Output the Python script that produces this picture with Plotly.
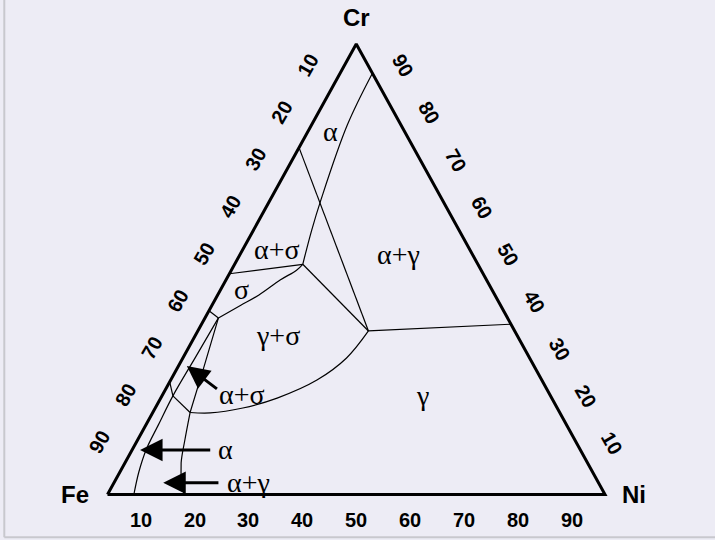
"""Fe-Cr-Ni isothermal section: phase fields drawn on a ternary grid."""

import plotly.graph_objects as go

# Phase boundaries, as Ni wt% and Cr wt% (Fe = balance)
edge_ni = [0, 100, 0, 0]
edge_cr = [0, 0, 100, 0]

alpha_top_ni = [6.5, 7.2, 10.2, 11.7, 13.7]
alpha_top_cr = [93.5, 82.0, 65.4, 58.7, 51.1]

tie_left_ni = [0, 34.3]
tie_left_cr = [77.0, 36.3]

tie_right_ni = [34.3, 62.2]
tie_right_cr = [36.3, 37.8]

j1_j2_ni = [13.7, 34.3]
j1_j2_cr = [51.1, 36.3]

sigma_top_ni = [0, 13.7]
sigma_top_cr = [49.0, 51.1]

sigma_low_ni = [13.7, 13.1, 10.9, 8.3, 5.8, 2.7]
sigma_low_cr = [51.1, 49.8, 47.6, 44.3, 42.0, 39.2]

sigma_left_ni = [0, 2.7]
sigma_left_cr = [40.8, 39.2]

alpha_low_ni = [2.7, 2.45, 2.2, 2.5, 2.8, 3.8, 5.3]
alpha_low_cr = [39.2, 30.5, 21.9, 15.4, 9.9, 5.0, 0]

alpha_edge_ni = [0, 2.2]
alpha_edge_cr = [25.0, 21.9]

as_bottom_ni = [2.2, 7.5]
as_bottom_cr = [21.9, 18.2]

as_right_ni = [2.7, 5.3, 7.5]
as_right_cr = [39.2, 28.0, 18.2]

ag_gamma_ni = [7.5, 9.5, 11.3, 13.7, 15.4]
ag_gamma_cr = [18.2, 12.1, 7.0, 2.5, 0]

arc_ni = [7.5, 11.6, 17.6, 23.4, 29.4, 32.9, 34.3]
arc_cr = [18.2, 18.1, 19.2, 21.4, 25.4, 30.3, 36.3]

# phase field labels
phase_text = ["α", "α+σ", "σ", "γ+σ", "α+γ", "γ"]
phase_ni = [4.5, 6.9, 4.2, 16.6, 31.9, 52.3]
phase_cr = [80.5, 54.3, 45.6, 35.4, 53.2, 21.9]

# arrow callouts (tip, tail, label)
callout_text = ["α+σ", "α", "α+γ"]
callout_tip_ni = [1.7, 1.6, 9.9]
callout_tip_cr = [28.5, 9.9, 2.6]
callout_tail_ni = [10.7, 16.0, 21.3]
callout_tail_cr = [23.2, 9.9, 2.6]
callout_label_ni = [16.0, 18.8, 27.0]
callout_label_cr = [22.1, 9.9, 2.6]

tick_values = [10, 20, 30, 40, 50, 60, 70, 80, 90]

BG = "#EDECF5"
TICK_FONT = dict(family="Liberation Sans Narrow, Liberation Sans, Arial, sans-serif",
                 size=20, color="black", weight="bold")
PHASE_FONT = dict(family="Liberation Serif, Times New Roman, serif", size=28, color="black")
CORNER_FONT = dict(family="Liberation Sans, Arial, sans-serif", size=24, color="black", weight="bold")


def to_xy(ni, cr):
    # ternary composition -> plane: Fe at origin, Ni at x=100, Cr at apex
    return [n + c / 2 for n, c in zip(ni, cr)], list(cr)


fig = go.Figure()


def add_line(ni, cr, width=1.2, shape="linear"):
    x, y = to_xy(ni, cr)
    fig.add_trace(go.Scatter(x=x, y=y, mode="lines",
                             line=dict(color="black", width=width, shape=shape),
                             hoverinfo="skip", showlegend=False))


add_line(edge_ni, edge_cr, width=3)
add_line(alpha_top_ni, alpha_top_cr, shape="spline")
add_line(tie_left_ni, tie_left_cr)
add_line(tie_right_ni, tie_right_cr)
add_line(j1_j2_ni, j1_j2_cr)
add_line(sigma_top_ni, sigma_top_cr)
add_line(sigma_low_ni, sigma_low_cr, shape="spline")
add_line(sigma_left_ni, sigma_left_cr)
add_line(alpha_low_ni, alpha_low_cr, shape="spline")
add_line(alpha_edge_ni, alpha_edge_cr)
add_line(as_bottom_ni, as_bottom_cr)
add_line(as_right_ni, as_right_cr, shape="spline")
add_line(ag_gamma_ni, ag_gamma_cr, shape="spline")
add_line(arc_ni, arc_cr, shape="spline")

annotations = []

# phase field names
px, py = to_xy(phase_ni, phase_cr)
for t, x, y in zip(phase_text, px, py):
    annotations.append(dict(x=x, y=y, text=t, showarrow=False, font=PHASE_FONT))

# arrows with labels
tx, ty = to_xy(callout_tip_ni, callout_tip_cr)
ax_, ay_ = to_xy(callout_tail_ni, callout_tail_cr)
lx, ly = to_xy(callout_label_ni, callout_label_cr)
for i, t in enumerate(callout_text):
    annotations.append(dict(x=tx[i], y=ty[i], ax=ax_[i], ay=ay_[i], axref="x", ayref="y",
                            text="", showarrow=True, arrowhead=2, arrowsize=1.5,
                            arrowwidth=3, arrowcolor="black", standoff=0, startstandoff=0))
    annotations.append(dict(x=lx[i], y=ly[i], text=t, showarrow=False, font=PHASE_FONT))

# corner labels
annotations += [
    dict(x=50, y=100, text="Cr", showarrow=False, yshift=27, font=CORNER_FONT),
    dict(x=0, y=0, text="Fe", showarrow=False, xshift=-33, font=CORNER_FONT),
    dict(x=100, y=0, text="Ni", showarrow=False, xshift=29, font=CORNER_FONT),
]

# tick labels: bottom = Ni, left = Fe, right = Cr
BOTTOM_SPREAD = 1.083
SIDE_SPREAD = 1.047
for v in tick_values:
    annotations.append(dict(x=50 + (v - 50) * BOTTOM_SPREAD, y=0, text=str(v),
                            showarrow=False, yshift=-25, font=TICK_FONT))
    fe = 50 + (v - 50) * SIDE_SPREAD
    cr = 100 - fe
    annotations.append(dict(x=cr / 2, y=cr, text=str(v), showarrow=False,
                            xshift=-28, yshift=15.5, textangle=-60, font=TICK_FONT))
    crr = 50 + (v - 50) * SIDE_SPREAD
    annotations.append(dict(x=100 - crr / 2, y=crr, text=str(v), showarrow=False,
                            xshift=27, yshift=15, textangle=60, font=TICK_FONT))

# thin grey frame on the left and bottom of the picture
shapes = [
    dict(type="line", xref="paper", yref="paper", x0=0.006, x1=0.006, y0=0.005, y1=1,
         line=dict(color="#C8C8CE", width=2)),
    dict(type="line", xref="paper", yref="paper", x0=0.006, x1=1, y0=0.005, y1=0.005,
         line=dict(color="#C8C8CE", width=2)),
]

fig.update_layout(
    width=715,
    height=540,
    margin=dict(l=0, r=0, t=0, b=0),
    paper_bgcolor=BG,
    plot_bgcolor=BG,
    xaxis=dict(range=[-21.608, 122.111], visible=False, fixedrange=True),
    yaxis=dict(range=[-10.1, 109.767], visible=False, fixedrange=True),
    annotations=annotations,
    shapes=shapes,
    showlegend=False,
)

# drop the page's default body margin so the figure sits at the window corner
fig.write_html("out.html", config={"displayModeBar": False},
               post_script="document.body.style.margin='0px';")
